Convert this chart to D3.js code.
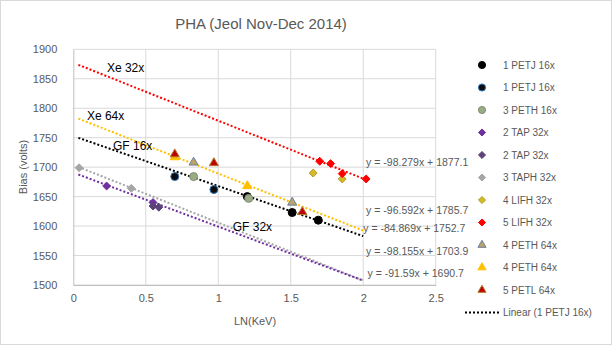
<!DOCTYPE html>
<html>
<head>
<meta charset="utf-8">
<script src="https://cdn.jsdelivr.net/npm/d3@7.9.0/dist/d3.min.js"></script>
<style>
  body { margin: 0; background: #fff; }
  svg text { font-family: "Liberation Sans", Arial, sans-serif; fill: #595959; }
</style>
</head>
<body>
<svg id="chart" width="612" height="345"></svg>
<script>
// series names, as in the legend
const seriesNames = ['1 PETJ 16x', '1 PETJ 16x', '3 PETH 16x', '2 TAP 32x', '2 TAP 32x',
                     '3 TAPH 32x', '4 LIFH 32x', '5 LIFH 32x', '4 PETH 64x', '4 PETH 64x', '5 PETL 64x'];

// LN(KeV) values per series
const xVals = [
  [1.20, 1.51, 1.69],
  [0.70, 0.97],
  [0.83, 1.21],
  [0.23, 0.55],
  [0.55, 0.59],
  [0.04, 0.40],
  [1.655, 1.855],
  [1.70, 1.775, 1.855, 2.02],
  [0.83, 1.51],
  [0.70, 1.20],
  [0.70, 0.97, 1.58]
];

// bias (volts) per series
const yVals = [
  [1650, 1623, 1610],
  [1684, 1662],
  [1684, 1647],
  [1668, 1640],
  [1634, 1632],
  [1699, 1664],
  [1690, 1680],
  [1710, 1706, 1689, 1680],
  [1708, 1640],
  [1717, 1668],
  [1722, 1707, 1624]
];

// trendlines (Excel linear fits)
const trendSlopes     = [-98.279, -96.592, -84.869, -98.155, -91.59];
const trendIntercepts = [1877.1, 1785.7, 1752.7, 1703.9, 1690.7];
const trendColors     = ['#ff0000', '#ffc000', '#000000', '#a6a6a6', '#7030a0'];
const trendRange      = [0.035, 2.0];
const eqLabelX        = [2.02, 2.02, 2.0, 2.02, 2.03];
const eqLabelY        = [1708, 1627, 1596, 1557, 1521];

// free text annotations
const noteTexts = ['Xe 32x', 'Xe 64x', 'GF 16x', 'GF 32x'];
const noteX     = [0.232, 0.094, 0.274, 1.10];
const noteY     = [1869, 1788, 1737, 1600];

const xTicks = [0, 0.5, 1, 1.5, 2, 2.5];
const yTicks = [1500, 1550, 1600, 1650, 1700, 1750, 1800, 1850, 1900];

// marker styles per series
const markerStyle = [
  { shape: 'circle',   fill: '#000000', stroke: '#000000', size: 50 },
  { shape: 'circle',   fill: '#0d0d0d', stroke: '#2e75b6', size: 50 },
  { shape: 'circle',   fill: '#9aab86', stroke: '#7f8f70', size: 50 },
  { shape: 'diamond',  fill: '#7030a0', stroke: '#7030a0', size: 40 },
  { shape: 'diamond',  fill: '#5c4378', stroke: '#5c4378', size: 40 },
  { shape: 'diamond',  fill: '#a6a6a6', stroke: '#a6a6a6', size: 40 },
  { shape: 'diamond',  fill: '#d4b92a', stroke: '#b59b1e', size: 40 },
  { shape: 'diamond',  fill: '#ff0000', stroke: '#ff0000', size: 40 },
  { shape: 'triangle', fill: '#b9a46a', stroke: '#6d7f9e', size: 36 },
  { shape: 'triangle', fill: '#ffc000', stroke: '#ffc000', size: 36 },
  { shape: 'triangle', fill: '#c00000', stroke: '#b07a2a', size: 36 }
];

const svg = d3.select('#chart');
const margin = { left: 73.3, right: 435.7, top: 49.3, bottom: 285 };

const x = d3.scaleLinear().domain([0, 2.5]).range([margin.left, margin.right]);
const y = d3.scaleLinear().domain([1500, 1900]).range([margin.bottom, margin.top]);

const symbolFor = { circle: d3.symbolCircle, diamond: d3.symbolDiamond2, triangle: d3.symbolTriangle };

// outer chart border
svg.append('rect')
   .attr('x', 0.5).attr('y', 0.5).attr('width', 611).attr('height', 344)
   .attr('fill', '#fff').attr('stroke', '#d9d9d9');

// title
svg.append('text')
   .attr('x', 261).attr('y', 29)
   .attr('text-anchor', 'middle')
   .style('font-size', '15px')
   .text('PHA (Jeol Nov-Dec 2014)');

// gridlines
const grid = svg.append('g');
grid.selectAll('line.h').data(yTicks).join('line')
    .attr('x1', margin.left).attr('x2', margin.right)
    .attr('y1', d => y(d)).attr('y2', d => y(d))
    .attr('stroke', '#d9d9d9').attr('stroke-width', 1);
grid.selectAll('line.v').data(xTicks.slice(1)).join('line')
    .attr('x1', d => x(d)).attr('x2', d => x(d))
    .attr('y1', margin.top).attr('y2', margin.bottom)
    .attr('stroke', '#d9d9d9').attr('stroke-width', 1);

// axes
const xAxis = svg.append('g')
   .attr('transform', `translate(0,${margin.bottom})`)
   .call(d3.axisBottom(x).tickValues(xTicks).tickSize(0).tickPadding(9).tickFormat(d3.format('')));
const yAxis = svg.append('g')
   .attr('transform', `translate(${margin.left},0)`)
   .call(d3.axisLeft(y).tickValues(yTicks).tickSize(0).tickPadding(16).tickFormat(d3.format('d')));
[xAxis, yAxis].forEach(a => {
  a.select('.domain').attr('stroke', '#bfbfbf');
  a.selectAll('text').style('font-size', '11px').style('font-family', '"Liberation Sans", Arial, sans-serif').attr('fill', '#595959');
});

svg.append('text')
   .attr('x', 255).attr('y', 325)
   .attr('text-anchor', 'middle')
   .style('font-size', '11px')
   .text('LN(KeV)');
svg.append('text')
   .attr('transform', 'translate(27,167) rotate(-90)')
   .attr('text-anchor', 'middle')
   .style('font-size', '11px')
   .text('Bias (volts)');

// trendlines
trendSlopes.forEach((m, i) => {
  const b = trendIntercepts[i];
  svg.append('line')
     .attr('x1', x(trendRange[0])).attr('y1', y(m * trendRange[0] + b))
     .attr('x2', x(trendRange[1])).attr('y2', y(m * trendRange[1] + b))
     .attr('stroke', trendColors[i])
     .attr('stroke-width', 2)
     .attr('stroke-dasharray', '2,2');

  svg.append('text')
     .attr('x', x(eqLabelX[i])).attr('y', y(eqLabelY[i]) + 4)
     .style('font-size', '10.5px')
     .text(`y = ${m}x + ${b}`);
});

// markers
seriesNames.forEach((name, i) => {
  const st = markerStyle[i];
  const pts = xVals[i].map((v, j) => [v, yVals[i][j]]);
  svg.append('g').selectAll('path').data(pts).join('path')
     .attr('transform', d => `translate(${x(d[0])},${y(d[1])})`)
     .attr('d', d3.symbol().type(symbolFor[st.shape]).size(st.size)())
     .attr('fill', st.fill)
     .attr('stroke', st.stroke)
     .attr('stroke-width', 1);
});

// annotations
noteTexts.forEach((t, i) => {
  svg.append('text')
     .attr('x', x(noteX[i])).attr('y', y(noteY[i]) + 4.5)
     .style('font-size', '12px')
     .style('fill', '#000')
     .text(t);
});

// legend
const legend = svg.append('g');
const legendTop = 65, legendStep = 22.5;
seriesNames.forEach((name, i) => {
  const st = markerStyle[i];
  const ly = legendTop + i * legendStep;
  legend.append('path')
     .attr('transform', `translate(482,${ly})`)
     .attr('d', d3.symbol().type(symbolFor[st.shape]).size(st.size * 0.8)())
     .attr('fill', st.fill).attr('stroke', st.stroke);
  legend.append('text')
     .attr('x', 503).attr('y', ly + 3.5)
     .style('font-size', '10px')
     .text(name);
});
const lyLin = legendTop + seriesNames.length * legendStep;
legend.append('line')
   .attr('x1', 465).attr('x2', 499).attr('y1', lyLin).attr('y2', lyLin)
   .attr('stroke', '#000').attr('stroke-width', 2).attr('stroke-dasharray', '2,2');
legend.append('text')
   .attr('x', 503).attr('y', lyLin + 3.5)
   .style('font-size', '10px')
   .text('Linear (1 PETJ 16x)');
</script>
</body>
</html>
